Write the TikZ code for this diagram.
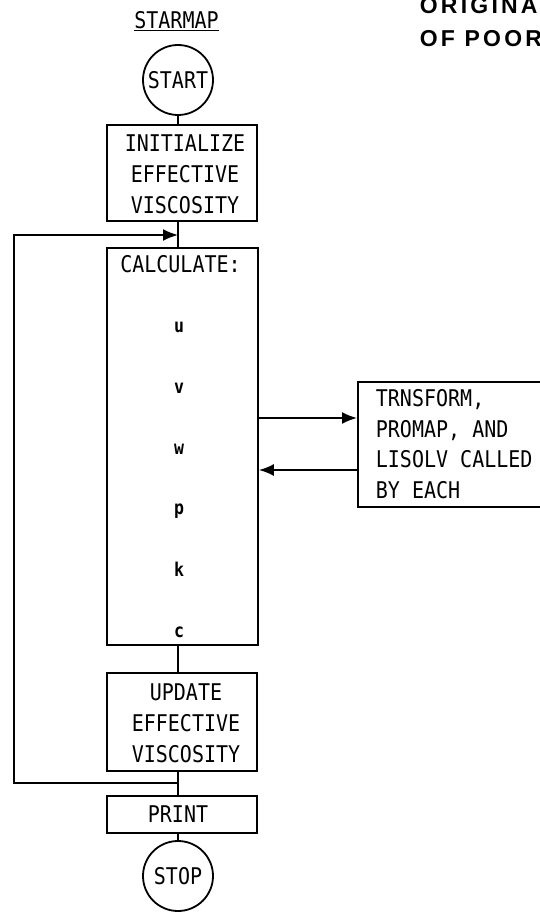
\documentclass[tikz,border=0pt]{standalone}
\usepackage{fontspec}
\newfontfamily\monof{DejaVu Sans Mono}[FakeStretch=0.87]
\newfontfamily\origf{Liberation Sans}[LetterSpace=14]
\usetikzlibrary{arrows.meta,calc}
\begin{document}
\begin{tikzpicture}[x=1pt,y=-1pt, line width=1.8pt,
  lbl/.style={font=\monof\fontsize{23}{31}\selectfont, inner sep=0pt, align=center},
  boxn/.style={draw, minimum width=150pt, inner sep=0pt},
  circn/.style={draw, circle, minimum size=70pt, inner sep=0pt, font=\monof\fontsize{23}{24}\selectfont},
  var/.style={font=\monof\bfseries\fontsize{19}{19}\selectfont, inner sep=0pt, anchor=base},
  arr/.style={-{Latex[length=15pt,width=12pt]}},
  orig/.style={font=\origf\bfseries\fontsize{23}{24}\selectfont, inner sep=0pt, anchor=base west}]
\useasboundingbox (0,0) rectangle (540,912);
\clip (0,0) rectangle (540,912);
\fill[white] (0,0) rectangle (540,912);
% header
\node[orig] (o1) at (419,14) {ORIGINAL};
\node[orig] (o2) at (419,47) {OF POOR};
\node[font=\monof\fontsize{23}{24}\selectfont, inner sep=0pt] (title) at (176.5,21) {\underline{STARMAP}};
% nodes
\node[circn] (start) at (178,80) {START};
\node[boxn, minimum height=96pt] (init) at (182,173) {};
\node[lbl] (initt) at (185,174) {INITIALIZE\\EFFECTIVE\\VISCOSITY};
\node[boxn, minimum width=151pt, minimum height=397pt] (calc) at (182.5,446.5) {};
\node[lbl] (calct) at (180.5,264) {CALCULATE:};
\node[var] (vu) at (179,332) {u};
\node[var] (vv) at (179,393) {v};
\node[var] (vw) at (179,454) {w};
\node[var] (vp) at (179,514) {p};
\node[var] (vk) at (179,576) {k};
\node[var] (vc) at (179,637) {c};
\node[draw, minimum width=220pt, minimum height=125pt, anchor=west, inner sep=0pt] (tbox) at (357,444.5) {};
\node[lbl, align=left, anchor=west, font=\monof\fontsize{23}{30.7}\selectfont] (tboxt) at (375,444) {TRNSFORM,\\PROMAP, AND\\LISOLV CALLED\\BY EACH};
\node[boxn, minimum height=98pt] (upd) at (182,722) {};
\node[lbl] (updt) at (186,723) {UPDATE\\EFFECTIVE\\VISCOSITY};
\node[boxn, minimum height=37pt] (print) at (182,814.5) {};
\node[lbl] (printt) at (178,814) {PRINT};
\node[circn] (stop) at (178,876) {STOP};
% trunk
\draw (start.south) -- (start.south |- init.north);
\draw (init.south -| start) -- (calc.north -| start);
\draw (calc.south -| start) -- (upd.north -| start);
\draw (upd.south -| start) -- (print.north -| start);
\draw (print.south -| start) -- (stop.north);
% loop
\coordinate (lb) at (178,783);
\coordinate (lt) at (178,235);
\coordinate (lx) at (14,0);
\draw[arr] (lb) -- (lx |- lb) -- (lx |- lt) -- (lt);
% side calls
\coordinate (a1) at (0,418);
\coordinate (a2) at (0,470);
\draw[arr] (calc.east |- a1) -- (tbox.west |- a1);
\draw[arr] (tbox.west |- a2) -- (calc.east |- a2);
\end{tikzpicture}
\end{document}
